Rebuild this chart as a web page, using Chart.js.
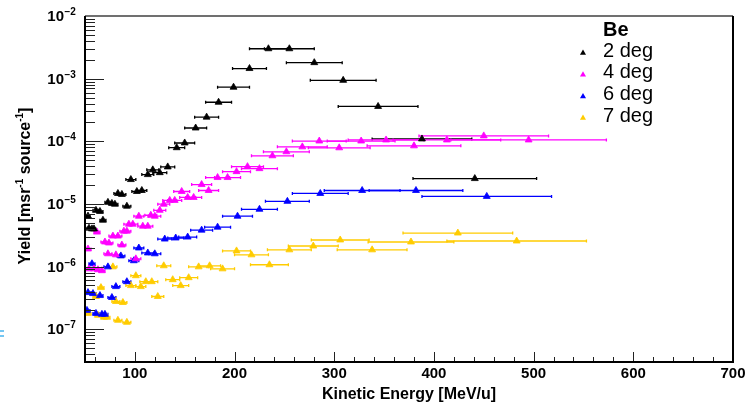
<!DOCTYPE html>
<html>
<head>
<meta charset="utf-8">
<title>Be yield vs kinetic energy</title>
<script src="https://cdn.jsdelivr.net/npm/chart.js@4.4.0/dist/chart.umd.min.js"></script>
<style>
  html, body { margin: 0; padding: 0; background: #fff; }
  #wrap { position: relative; width: 749px; height: 405px; }
  #edgeMark {
    position: absolute; left: 0; top: 330px; width: 4px; height: 3px;
    border-top: 2px solid #74c6f2; border-bottom: 2px solid #74c6f2;
  }
</style>
</head>
<body>
<div id="wrap">
  <canvas id="yieldChart" width="749" height="405"></canvas>
  <div id="edgeMark"></div>
</div>
<script>
// Be target, yield per angle. Energies in MeV/u, yields in msr^-1 source^-1,
// xErr = half width of the energy bin.
const energy2 = [53, 54, 57, 59, 61, 65, 68, 73, 77, 80, 83, 87, 92, 96, 102, 107, 113, 118, 125, 133,
                 142, 150, 161, 172, 184, 199, 215, 234, 255, 280, 309, 344, 388, 441];
const yield2 = [6.4e-6, 4.1e-6, 4.0e-6, 4.0e-6, 7.9e-6, 7.6e-6, 5.5e-6, 1.06e-5, 1.02e-5, 9.9e-6,
                1.47e-5, 1.42e-5, 9.2e-6, 2.45e-5, 1.58e-5, 1.64e-5, 2.94e-5, 3.5e-5, 3.16e-5, 3.9e-5,
                7.9e-5, 9.4e-5, 1.63e-4, 2.43e-4, 4.2e-4, 7.3e-4, 1.45e-3, 3.0e-3, 3.0e-3, 1.8e-3,
                9.4e-4, 3.6e-4, 1.09e-4, 2.54e-5];
const err2 = [2, 2, 2, 2, 3, 3, 3, 3, 3, 3, 4, 4, 4, 5, 5, 5, 6, 6, 7, 7,
              8, 10, 11, 12, 13, 16, 17, 19, 25, 28, 33, 40, 50, 62];

const energy4 = [53, 54, 59, 62, 63, 67, 70, 73, 74, 78, 81, 83, 87, 89, 92, 94, 98, 101, 104, 108,
                 113, 116, 120, 125, 129, 135, 140, 147, 153, 159, 167, 174, 183, 193, 202, 213, 225, 238,
                 252, 268, 285, 305, 327, 352, 380, 413, 450, 495];
const yield4 = [1.91e-6, 9.2e-7, 9.2e-7, 3.55e-6, 8.9e-7, 8.6e-7, 2.47e-6, 1.6e-6, 2.38e-6, 3.07e-6,
                1.54e-6, 3.07e-6, 2.21e-6, 3.68e-6, 3.68e-6, 4.75e-6, 4.75e-6, 1.33e-6, 6.37e-6, 4.42e-6,
                4.42e-6, 6.6e-6, 6.37e-6, 7.92e-6, 9.9e-6, 1.14e-5, 1.14e-5, 1.58e-5, 1.27e-5, 1.27e-5,
                2.04e-5, 1.64e-5, 2.64e-5, 2.64e-5, 3.28e-5, 3.94e-5, 3.66e-5, 5.87e-5, 6.8e-5, 8.15e-5,
                1.01e-4, 7.87e-5, 1.01e-4, 1.05e-4, 8.46e-5, 1.05e-4, 1.22e-4, 1.05e-4];
const err4 = [3, 3, 3, 3, 3, 3, 4, 4, 4, 4, 4, 4, 4, 4, 4, 5, 5, 5, 5, 5,
              5, 6, 6, 6, 6, 7, 7, 8, 8, 8, 10, 10, 12, 13, 14, 16, 18, 21, 23, 25,
              27, 31, 34, 38, 47, 54, 65, 78];

const energy6 = [52, 53, 57, 58, 61, 65, 67, 70, 73, 77, 81, 86, 92, 99, 104, 113, 120, 130, 141, 153,
                 167, 183, 203, 225, 253, 286, 328, 382, 453];
const yield6 = [2.0e-7, 3.85e-7, 1.11e-6, 3.71e-7, 1.79e-7, 3.45e-7, 1.73e-7, 1.73e-7, 9.9e-7, 3.21e-7,
                4.79e-7, 1.48e-6, 5.74e-7, 1.24e-6, 1.98e-6, 1.65e-6, 1.6e-6, 2.75e-6, 2.86e-6, 2.96e-6,
                3.82e-6, 4.26e-6, 6.37e-6, 8.22e-6, 1.1e-5, 1.47e-5, 1.64e-5, 1.64e-5, 1.32e-5];
const err6 = [3, 3, 3, 3, 3, 3, 3, 3, 4, 4, 4, 4, 4, 5, 5, 6, 6, 7, 8, 9,
              11, 13, 15, 18, 22, 28, 38, 47, 65];

const energy7 = [53, 61, 63, 66, 69, 72, 78, 81, 83, 88, 92, 96, 101, 106, 111, 117, 123, 129, 138, 146,
                 154, 164, 175, 188, 202, 217, 235, 255, 279, 306, 338, 377, 424, 483];
const yield7 = [1.79e-7, 3.33e-7, 1.67e-7, 4.62e-7, 1.55e-7, 1.55e-7, 9.9e-7, 2.77e-7, 1.39e-7, 2.67e-7,
                1.29e-7, 4.97e-7, 7.15e-7, 4.79e-7, 5.74e-7, 5.74e-7, 3.33e-7, 1.03e-6, 6.18e-7, 4.97e-7,
                6.65e-7, 9.9e-7, 1.03e-6, 9.2e-7, 1.78e-6, 1.54e-6, 1.07e-6, 1.85e-6, 2.13e-6, 2.66e-6,
                1.85e-6, 2.47e-6, 3.43e-6, 2.56e-6];
const err7 = [3, 3, 3, 3, 3, 3, 4, 4, 4, 4, 4, 5, 5, 5, 6, 6, 6, 7, 7, 8,
              9, 10, 11, 12, 14, 17, 19, 22, 25, 29, 35, 43, 55, 70];

const seriesLabels = ['2 deg', '4 deg', '6 deg', '7 deg'];
const seriesColors = ['#000000', '#ff00ff', '#0000ff', '#ffcc00'];
const xTicks = [100, 200, 300, 400, 500, 600, 700];
const yExponents = [-7, -6, -5, -4, -3, -2];

const X_MIN = 50, X_MAX = 700;
const Y_MIN = 3.2e-8, Y_MAX = 1e-2;
const FONT = "'Liberation Sans', Arial, Helvetica, sans-serif";

function points(es, ys) {
    return es.map((e, i) => ({ x: e, y: ys[i] }));
}

function makeSet(i, es, ys, errs) {
    return {
        label: seriesLabels[i],
        data: points(es, ys),
        xErr: errs,
        borderColor: seriesColors[i],
        backgroundColor: seriesColors[i],
        pointStyle: 'triangle',
        pointRadius: 4,
        pointBorderWidth: 0.8,
        showLine: false
    };
}

// horizontal error bars with small end caps, under the markers
const errorBars = {
    id: 'errorBars',
    beforeDatasetsDraw(chart) {
        const { ctx, chartArea: a, scales: { x, y } } = chart;
        ctx.save();
        ctx.beginPath();
        ctx.rect(a.left, a.top, a.right - a.left, a.bottom - a.top);
        ctx.clip();
        chart.data.datasets.forEach(ds => {
            ctx.strokeStyle = ds.borderColor;
            ctx.lineWidth = 1.3;
            ds.data.forEach((p, i) => {
                const e = ds.xErr[i];
                const x0 = x.getPixelForValue(p.x - e);
                const x1 = x.getPixelForValue(p.x + e);
                const py = y.getPixelForValue(p.y);
                ctx.beginPath();
                ctx.moveTo(x0, py); ctx.lineTo(x1, py);
                ctx.moveTo(x0, py - 1.5); ctx.lineTo(x0, py + 1.5);
                ctx.moveTo(x1, py - 1.5); ctx.lineTo(x1, py + 1.5);
                ctx.stroke();
            });
        });
        ctx.restore();
    }
};

function triangle(ctx, cx, cy, r, color) {
    ctx.fillStyle = color;
    ctx.beginPath();
    ctx.moveTo(cx, cy - r);
    ctx.lineTo(cx + r * 0.866, cy + r * 0.5);
    ctx.lineTo(cx - r * 0.866, cy + r * 0.5);
    ctx.closePath();
    ctx.fill();
}

// frame, inward ticks, log labels, axis titles and legend
const rootFrame = {
    id: 'rootFrame',
    afterDraw(chart) {
        const { ctx, chartArea: a, scales: { x, y } } = chart;
        ctx.save();

        ctx.strokeStyle = '#222';
        ctx.lineWidth = 1;
        ctx.beginPath();
        for (let v = 60; v <= X_MAX; v += 20) {
            const px = Math.round(x.getPixelForValue(v)) + 0.5;
            const len = v % 100 === 0 ? 10 : 5;
            ctx.moveTo(px, a.bottom);
            ctx.lineTo(px, a.bottom - len);
        }
        for (let d = -8; d <= -3; d++) {
            for (let k = 1; k <= 9; k++) {
                const v = k * Math.pow(10, d);
                if (v < Y_MIN || v > Y_MAX) continue;
                const py = Math.round(y.getPixelForValue(v)) + 0.5;
                const len = k === 1 ? 19 : 10;
                ctx.moveTo(a.left, py);
                ctx.lineTo(a.left + len, py);
            }
        }
        ctx.stroke();

        // box
        ctx.lineWidth = 2;
        ctx.strokeStyle = '#707070';
        ctx.beginPath();
        ctx.moveTo(a.left, a.top); ctx.lineTo(a.right, a.top);
        ctx.stroke();
        ctx.strokeStyle = '#000';
        ctx.beginPath();
        ctx.moveTo(a.right, a.top); ctx.lineTo(a.right, a.bottom);
        ctx.lineTo(a.left, a.bottom); ctx.lineTo(a.left, a.top);
        ctx.stroke();

        // y tick labels as 10^n
        ctx.fillStyle = '#000';
        ctx.textBaseline = 'alphabetic';
        yExponents.forEach(n => {
            const py = y.getPixelForValue(Math.pow(10, n));
            ctx.font = 'bold 15px ' + FONT;
            ctx.textAlign = 'right';
            ctx.fillText('10', 64, py + 5);
            ctx.font = 'bold 10px ' + FONT;
            ctx.textAlign = 'left';
            ctx.fillText('\u2212' + Math.abs(n), 64.5, py - 1);
        });

        // x title
        ctx.font = 'bold 16px ' + FONT;
        ctx.textAlign = 'center';
        ctx.fillText('Kinetic Energy [MeV/u]', (a.left + a.right) / 2, 399);

        // y title, rotated, with superscripts
        const parts = [
            ['Yield [msr', false], ['-1', true], [' source', false], ['-1', true], [']', false]
        ];
        const fontFor = sup => sup ? 'bold 10px ' + FONT : 'bold 16px ' + FONT;
        let total = 0;
        parts.forEach(([t, sup]) => { ctx.font = fontFor(sup); total += ctx.measureText(t).width; });
        ctx.translate(30, 186);
        ctx.rotate(-Math.PI / 2);
        ctx.textAlign = 'left';
        let cx = -total / 2;
        parts.forEach(([t, sup]) => {
            ctx.font = fontFor(sup);
            ctx.fillText(t, cx, sup ? -7 : 0);
            cx += ctx.measureText(t).width;
        });
        ctx.setTransform(1, 0, 0, 1, 0, 0);

        // legend
        ctx.textAlign = 'left';
        ctx.font = 'bold 20px ' + FONT;
        ctx.fillText('Be', 603, 36);
        ctx.font = '20px ' + FONT;
        ctx.textBaseline = 'middle';
        chart.data.datasets.forEach((ds, i) => {
            const ry = 51 + i * 21.7;
            triangle(ctx, 583, ry + 2, 3.5, ds.backgroundColor);
            ctx.fillStyle = '#000';
            ctx.fillText(ds.label, 603, ry);
        });
        ctx.restore();
    }
};

new Chart(document.getElementById('yieldChart'), {
    type: 'scatter',
    data: {
        datasets: [
            makeSet(0, energy2, yield2, err2),
            makeSet(1, energy4, yield4, err4),
            makeSet(2, energy6, yield6, err6),
            makeSet(3, energy7, yield7, err7)
        ]
    },
    options: {
        responsive: false,
        animation: false,
        devicePixelRatio: 1,
        layout: { padding: { top: 16, right: 16, left: 0, bottom: 0 } },
        plugins: {
            legend: { display: false },
            tooltip: { enabled: false }
        },
        scales: {
            x: {
                type: 'linear',
                min: X_MIN,
                max: X_MAX,
                grid: { display: false, drawTicks: false },
                border: { display: false },
                afterBuildTicks: scale => { scale.ticks = xTicks.map(v => ({ value: v })); },
                afterFit: scale => { scale.height = 43; },
                ticks: {
                    padding: 3,
                    color: '#000',
                    font: { family: FONT, size: 15, weight: 'bold' }
                }
            },
            y: {
                type: 'logarithmic',
                min: Y_MIN,
                max: Y_MAX,
                grid: { display: false, drawTicks: false },
                border: { display: false },
                ticks: { display: false },
                afterFit: scale => { scale.width = 85; }
            }
        }
    },
    plugins: [errorBars, rootFrame]
});
</script>
</body>
</html>
